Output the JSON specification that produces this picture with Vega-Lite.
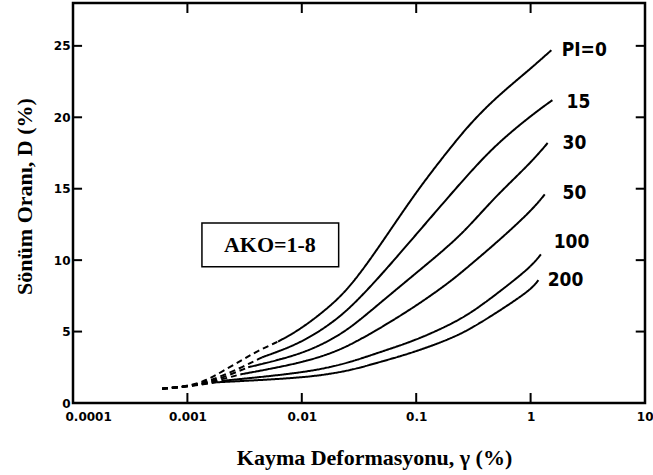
{
  "$schema": "https://vega.github.io/schema/vega-lite/v6.json",
  "width": 572,
  "height": 400,
  "autosize": "none",
  "padding": {"left": 73, "top": 3, "right": 8, "bottom": 72},
  "background": "white",
  "config": {
    "view": {"stroke": "black", "strokeWidth": 2.5},
    "axis": {
      "grid": false,
      "domain": false,
      "ticks": false,
      "labelColor": "black",
      "labelFont": "DejaVu Sans",
      "labelFontWeight": "bold",
      "labelFontSize": 12,
      "titleColor": "black",
      "titleFont": "Liberation Serif",
      "titleFontWeight": "bold",
      "titleFontSize": 22
    }
  },
  "datasets": {
    "curves": [
      {"pi": "0", "seg": "dashed", "x": 0.0006, "D": 1.0},
      {"pi": "0", "seg": "dashed", "x": 0.001, "D": 1.15},
      {"pi": "0", "seg": "dashed", "x": 0.0015, "D": 1.6},
      {"pi": "0", "seg": "dashed", "x": 0.002, "D": 2.2},
      {"pi": "0", "seg": "dashed", "x": 0.003, "D": 3.0},
      {"pi": "0", "seg": "dashed", "x": 0.004, "D": 3.6},
      {"pi": "0", "seg": "dashed", "x": 0.0062, "D": 4.3},
      {"pi": "0", "seg": "solid", "x": 0.0062, "D": 4.3},
      {"pi": "0", "seg": "solid", "x": 0.01, "D": 5.2},
      {"pi": "0", "seg": "solid", "x": 0.02, "D": 7.1},
      {"pi": "0", "seg": "solid", "x": 0.03, "D": 8.7},
      {"pi": "0", "seg": "solid", "x": 0.05, "D": 11.2},
      {"pi": "0", "seg": "solid", "x": 0.1, "D": 14.8},
      {"pi": "0", "seg": "solid", "x": 0.2, "D": 17.9},
      {"pi": "0", "seg": "solid", "x": 0.3, "D": 19.6},
      {"pi": "0", "seg": "solid", "x": 0.5, "D": 21.4},
      {"pi": "0", "seg": "solid", "x": 1, "D": 23.4},
      {"pi": "0", "seg": "solid", "x": 1.52, "D": 24.7},

      {"pi": "15", "seg": "dashed", "x": 0.0006, "D": 1.0},
      {"pi": "15", "seg": "dashed", "x": 0.001, "D": 1.15},
      {"pi": "15", "seg": "dashed", "x": 0.0015, "D": 1.5},
      {"pi": "15", "seg": "dashed", "x": 0.002, "D": 1.9},
      {"pi": "15", "seg": "dashed", "x": 0.003, "D": 2.5},
      {"pi": "15", "seg": "dashed", "x": 0.0045, "D": 3.2},
      {"pi": "15", "seg": "solid", "x": 0.0045, "D": 3.2},
      {"pi": "15", "seg": "solid", "x": 0.01, "D": 4.2},
      {"pi": "15", "seg": "solid", "x": 0.02, "D": 5.8},
      {"pi": "15", "seg": "solid", "x": 0.03, "D": 7.1},
      {"pi": "15", "seg": "solid", "x": 0.05, "D": 9.0},
      {"pi": "15", "seg": "solid", "x": 0.1, "D": 11.8},
      {"pi": "15", "seg": "solid", "x": 0.2, "D": 14.6},
      {"pi": "15", "seg": "solid", "x": 0.3, "D": 16.2},
      {"pi": "15", "seg": "solid", "x": 0.5, "D": 18.1},
      {"pi": "15", "seg": "solid", "x": 1, "D": 20.1},
      {"pi": "15", "seg": "solid", "x": 1.55, "D": 21.2},

      {"pi": "30", "seg": "dashed", "x": 0.0006, "D": 1.0},
      {"pi": "30", "seg": "dashed", "x": 0.001, "D": 1.15},
      {"pi": "30", "seg": "dashed", "x": 0.0015, "D": 1.45},
      {"pi": "30", "seg": "dashed", "x": 0.002, "D": 1.75},
      {"pi": "30", "seg": "dashed", "x": 0.0034, "D": 2.5},
      {"pi": "30", "seg": "solid", "x": 0.0034, "D": 2.5},
      {"pi": "30", "seg": "solid", "x": 0.01, "D": 3.4},
      {"pi": "30", "seg": "solid", "x": 0.02, "D": 4.6},
      {"pi": "30", "seg": "solid", "x": 0.03, "D": 5.6},
      {"pi": "30", "seg": "solid", "x": 0.05, "D": 7.1},
      {"pi": "30", "seg": "solid", "x": 0.1, "D": 9.1},
      {"pi": "30", "seg": "solid", "x": 0.2, "D": 11.1},
      {"pi": "30", "seg": "solid", "x": 0.3, "D": 12.5},
      {"pi": "30", "seg": "solid", "x": 0.5, "D": 14.5},
      {"pi": "30", "seg": "solid", "x": 1, "D": 16.8},
      {"pi": "30", "seg": "solid", "x": 1.41, "D": 18.2},

      {"pi": "50", "seg": "dashed", "x": 0.0006, "D": 1.0},
      {"pi": "50", "seg": "dashed", "x": 0.001, "D": 1.15},
      {"pi": "50", "seg": "dashed", "x": 0.0015, "D": 1.4},
      {"pi": "50", "seg": "dashed", "x": 0.0029, "D": 2.0},
      {"pi": "50", "seg": "solid", "x": 0.0029, "D": 2.0},
      {"pi": "50", "seg": "solid", "x": 0.01, "D": 2.8},
      {"pi": "50", "seg": "solid", "x": 0.02, "D": 3.6},
      {"pi": "50", "seg": "solid", "x": 0.03, "D": 4.3},
      {"pi": "50", "seg": "solid", "x": 0.05, "D": 5.3},
      {"pi": "50", "seg": "solid", "x": 0.1, "D": 6.8},
      {"pi": "50", "seg": "solid", "x": 0.2, "D": 8.5},
      {"pi": "50", "seg": "solid", "x": 0.3, "D": 9.7},
      {"pi": "50", "seg": "solid", "x": 0.5, "D": 11.2},
      {"pi": "50", "seg": "solid", "x": 1, "D": 13.4},
      {"pi": "50", "seg": "solid", "x": 1.33, "D": 14.6},

      {"pi": "100", "seg": "dashed", "x": 0.0006, "D": 1.0},
      {"pi": "100", "seg": "dashed", "x": 0.001, "D": 1.15},
      {"pi": "100", "seg": "dashed", "x": 0.002, "D": 1.55},
      {"pi": "100", "seg": "solid", "x": 0.002, "D": 1.55},
      {"pi": "100", "seg": "solid", "x": 0.01, "D": 2.1},
      {"pi": "100", "seg": "solid", "x": 0.02, "D": 2.6},
      {"pi": "100", "seg": "solid", "x": 0.03, "D": 3.0},
      {"pi": "100", "seg": "solid", "x": 0.05, "D": 3.6},
      {"pi": "100", "seg": "solid", "x": 0.1, "D": 4.4},
      {"pi": "100", "seg": "solid", "x": 0.2, "D": 5.5},
      {"pi": "100", "seg": "solid", "x": 0.3, "D": 6.3},
      {"pi": "100", "seg": "solid", "x": 0.5, "D": 7.6},
      {"pi": "100", "seg": "solid", "x": 1, "D": 9.5},
      {"pi": "100", "seg": "solid", "x": 1.23, "D": 10.4},

      {"pi": "200", "seg": "dashed", "x": 0.0006, "D": 1.0},
      {"pi": "200", "seg": "dashed", "x": 0.001, "D": 1.15},
      {"pi": "200", "seg": "dashed", "x": 0.0018, "D": 1.45},
      {"pi": "200", "seg": "solid", "x": 0.0018, "D": 1.45},
      {"pi": "200", "seg": "solid", "x": 0.01, "D": 1.75},
      {"pi": "200", "seg": "solid", "x": 0.02, "D": 2.1},
      {"pi": "200", "seg": "solid", "x": 0.03, "D": 2.4},
      {"pi": "200", "seg": "solid", "x": 0.05, "D": 2.9},
      {"pi": "200", "seg": "solid", "x": 0.1, "D": 3.6},
      {"pi": "200", "seg": "solid", "x": 0.2, "D": 4.5},
      {"pi": "200", "seg": "solid", "x": 0.3, "D": 5.2},
      {"pi": "200", "seg": "solid", "x": 0.5, "D": 6.3},
      {"pi": "200", "seg": "solid", "x": 1, "D": 7.9},
      {"pi": "200", "seg": "solid", "x": 1.17, "D": 8.6}
    ],
    "labels": [
      {"label": "PI=0", "x": 1.87, "D": 24.7},
      {"label": "15", "x": 2.06, "D": 21.1},
      {"label": "30", "x": 1.9, "D": 18.2},
      {"label": "50", "x": 1.9, "D": 14.7},
      {"label": "100", "x": 1.59, "D": 11.3},
      {"label": "200", "x": 1.41, "D": 8.6}
    ],
    "xticks": [{"v": 0.001}, {"v": 0.01}, {"v": 0.1}, {"v": 1}],
    "yticks": [{"v": 5}, {"v": 10}, {"v": 15}, {"v": 20}, {"v": 25}]
  },
  "layer": [
    {
      "data": {"name": "curves"},
      "mark": {"type": "line", "color": "black", "strokeWidth": 2, "interpolate": "basis"},
      "encoding": {
        "x": {
          "field": "x", "type": "quantitative",
          "scale": {"type": "log", "domain": [0.0001, 10]},
          "axis": {
            "orient": "bottom",
            "values": [0.0001, 0.001, 0.01, 0.1, 1, 10],
            "labelExpr": "'' + datum.value",
            "labelPadding": 8,
            "labelFlush": true,
            "labelFlushOffset": 8,
            "title": "Kayma Deformasyonu, γ (%)",
            "titleX": 301,
            "titleY": 61,
            "titleBaseline": "alphabetic"
          }
        },
        "y": {
          "field": "D", "type": "quantitative",
          "scale": {"domain": [0, 28]},
          "axis": {
            "orient": "left",
            "values": [0, 5, 10, 15, 20, 25],
            "labelPadding": 3,
            "title": "Sönüm Oranı, D (%)",
            "titleX": -42,
            "titleY": 193,
            "titleBaseline": "alphabetic"
          }
        },
        "detail": {"field": "pi"},
        "strokeDash": {
          "field": "seg", "type": "nominal",
          "scale": {"domain": ["solid", "dashed"], "range": [[1, 0], [6, 4]]},
          "legend": null
        }
      }
    },
    {
      "data": {"name": "labels"},
      "mark": {"type": "text", "align": "left", "baseline": "middle", "font": "DejaVu Sans Condensed, DejaVu Sans", "fontWeight": "bold", "fontSize": 19, "color": "black"},
      "encoding": {
        "x": {"field": "x", "type": "quantitative"},
        "y": {"field": "D", "type": "quantitative"},
        "text": {"field": "label"}
      }
    },
    {
      "data": {"values": [{}]},
      "mark": {"type": "rect", "fill": "white", "stroke": "black", "strokeWidth": 1.5},
      "encoding": {
        "x": {"datum": 0.00134, "type": "quantitative"},
        "x2": {"datum": 0.021},
        "y": {"datum": 12.6, "type": "quantitative"},
        "y2": {"datum": 9.53}
      }
    },
    {
      "data": {"values": [{}]},
      "mark": {"type": "text", "align": "center", "baseline": "middle", "font": "Liberation Serif", "fontWeight": "bold", "fontSize": 22, "color": "black", "text": "AKO=1-8"},
      "encoding": {
        "x": {"datum": 0.00526, "type": "quantitative"},
        "y": {"datum": 11.07, "type": "quantitative"}
      }
    },
    {
      "data": {"name": "xticks"},
      "mark": {"type": "rule", "color": "black", "strokeWidth": 2},
      "encoding": {
        "x": {"field": "v", "type": "quantitative"},
        "y": {"datum": 0, "type": "quantitative"},
        "y2": {"datum": 0.7}
      }
    },
    {
      "data": {"name": "xticks"},
      "mark": {"type": "rule", "color": "black", "strokeWidth": 2},
      "encoding": {
        "x": {"field": "v", "type": "quantitative"},
        "y": {"datum": 27.3, "type": "quantitative"},
        "y2": {"datum": 28}
      }
    },
    {
      "data": {"name": "yticks"},
      "mark": {"type": "rule", "color": "black", "strokeWidth": 2},
      "encoding": {
        "y": {"field": "v", "type": "quantitative"},
        "x": {"datum": 0.0001, "type": "quantitative"},
        "x2": {"datum": 0.00012}
      }
    },
    {
      "data": {"name": "yticks"},
      "mark": {"type": "rule", "color": "black", "strokeWidth": 2},
      "encoding": {
        "y": {"field": "v", "type": "quantitative"},
        "x": {"datum": 8.3, "type": "quantitative"},
        "x2": {"datum": 10}
      }
    }
  ]
}
